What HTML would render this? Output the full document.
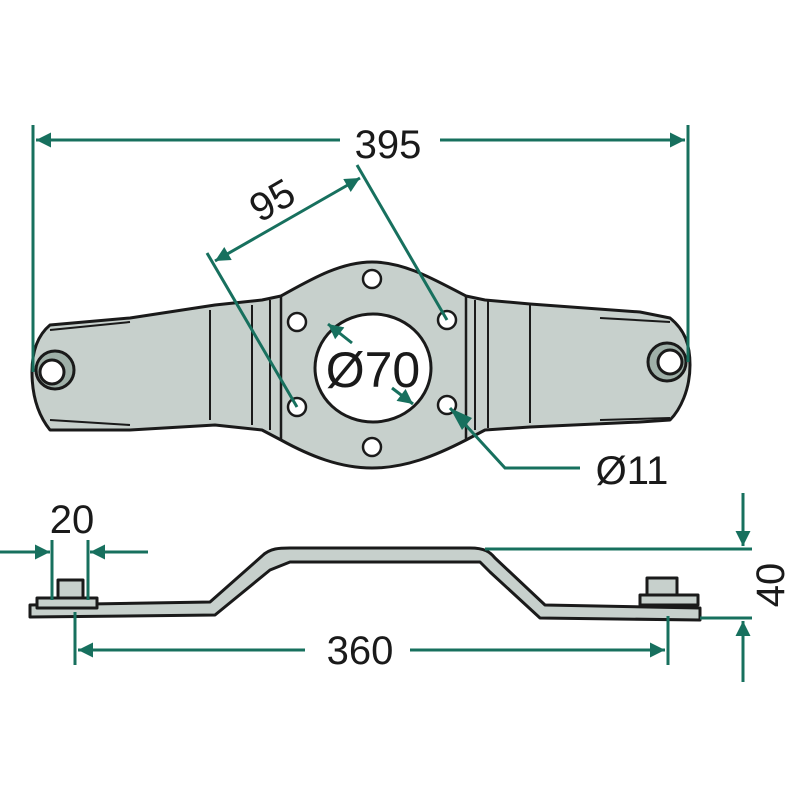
<!DOCTYPE html>
<html><head><meta charset="utf-8"><style>body{margin:0;background:#fff}svg{display:block}</style></head><body>
<svg width="800" height="800" viewBox="0 0 800 800" xmlns="http://www.w3.org/2000/svg" font-family="Liberation Sans, sans-serif">
<defs>
<marker id="a" viewBox="0 0 10 10" refX="10" refY="5" markerWidth="8" markerHeight="5" orient="auto-start-reverse" markerUnits="strokeWidth"><path d="M0,0 L10,5 L0,10 z" fill="#17705e"/></marker>
</defs>
<g stroke="#1a1a1a" stroke-width="3" fill="#c7d0cc" stroke-linejoin="round">
<path d="M281,296 C310,280 340,262 372,262 C405,262 435,280 466,296 L485,300 L530,304 L640,312 L670,318 C685,330 690,345 690,365 C690,390 680,410 670,420 L640,422 L530,427 L485,430 L466,440 C435,456 405,468 372,468 C340,468 310,456 281,440 L262,430 L215,425 L130,430 L50,430 C38,415 32,395 32,372 C32,350 38,335 50,325 L130,318 L215,305 L262,300 Z"/>
<path d="M281,296 L281,440 M466,296 L466,440" fill="none" stroke-width="2.5"/>
<path d="M210,310 L210,420 M252,305 L252,425 M488,300 L488,428 M530,305 L530,423 M270,300 L270,430 M475,300 L475,430" fill="none" stroke-width="2"/>
<path d="M50,330 L130,322 M50,420 L130,425 M670,322 L600,318 M670,418 L600,420" fill="none" stroke-width="2"/>
<ellipse cx="373" cy="368" rx="58" ry="54" fill="#fff"/>
<g fill="#fff" stroke-width="2.5">
<circle cx="372" cy="279" r="9"/><circle cx="372" cy="447" r="9"/>
<circle cx="297" cy="322" r="9"/><circle cx="297" cy="407" r="9"/>
<circle cx="447" cy="320" r="9"/><circle cx="447" cy="405" r="9"/>
</g>
<circle cx="55" cy="370" r="19" fill="#9fb0a8"/><circle cx="52" cy="372" r="12" fill="#fff"/>
<circle cx="667" cy="362" r="19" fill="#9fb0a8"/><circle cx="670" cy="362" r="12" fill="#fff"/>
</g>
<g stroke="#17705e" stroke-width="3" fill="none">
<line x1="33" y1="125" x2="33" y2="372"/>
<line x1="688" y1="125" x2="688" y2="362"/>
<line x1="36" y1="140" x2="340" y2="140" marker-start="url(#a)"/>
<line x1="440" y1="140" x2="685" y2="140" marker-end="url(#a)"/>
<line x1="207" y1="253" x2="297" y2="407"/>
<line x1="357" y1="165" x2="447" y2="320"/>
<line x1="215" y1="261" x2="360" y2="178" marker-start="url(#a)" marker-end="url(#a)"/>
<line x1="328" y1="324" x2="352" y2="343" marker-start="url(#a)"/>
<line x1="392" y1="388" x2="413" y2="404" marker-end="url(#a)"/>
<polyline points="450,408 505,468 580,468"/>
</g>
<g fill="#17705e"><path d="M450,408 L472,418 L462,430 Z"/></g>
<g fill="#1a1a1a">
<text x="388" y="158" font-size="40" text-anchor="middle">395</text>
<text x="272" y="214" font-size="40" text-anchor="middle" transform="rotate(-30 272 200)">95</text>
<text x="373" y="387" font-size="50" text-anchor="middle">Ø70</text>
<text x="632" y="484" font-size="40" text-anchor="middle">Ø11</text>
<text x="72" y="533" font-size="40" text-anchor="middle">20</text>
<text x="360" y="664" font-size="40" text-anchor="middle">360</text>
<text x="770" y="585" font-size="40" text-anchor="middle" transform="rotate(-90 770 585)" dy="14">40</text>
</g>
<g stroke="#1a1a1a" stroke-width="3" fill="#c7d0cc" stroke-linejoin="round">
<path d="M30,605 L210,602 L262,556 C270,548 280,548 290,548 L470,548 C485,548 490,552 495,558 L545,605 L700,608 L700,620 L540,618 L490,572 L480,562 L290,562 L270,570 L215,615 L30,617 Z"/>
<rect x="37" y="598" width="60" height="10"/>
<rect x="58" y="580" width="25" height="18"/>
<rect x="640" y="595" width="58" height="10"/>
<rect x="647" y="578" width="30" height="17"/>
</g>
<g stroke="#17705e" stroke-width="3" fill="none">
<line x1="52" y1="540" x2="52" y2="600"/>
<line x1="88" y1="540" x2="88" y2="600"/>
<line x1="0" y1="552" x2="50" y2="552" marker-end="url(#a)"/>
<line x1="148" y1="552" x2="90" y2="552" marker-end="url(#a)"/>
<line x1="75" y1="612" x2="75" y2="665"/>
<line x1="668" y1="616" x2="668" y2="665"/>
<line x1="78" y1="650" x2="305" y2="650" marker-start="url(#a)"/>
<line x1="410" y1="650" x2="665" y2="650" marker-end="url(#a)"/>
<line x1="485" y1="549" x2="752" y2="549"/>
<line x1="700" y1="618" x2="752" y2="618"/>
<line x1="743" y1="493" x2="743" y2="546" marker-end="url(#a)"/>
<line x1="743" y1="682" x2="743" y2="621" marker-end="url(#a)"/>
</g>
</svg>
</body></html>
